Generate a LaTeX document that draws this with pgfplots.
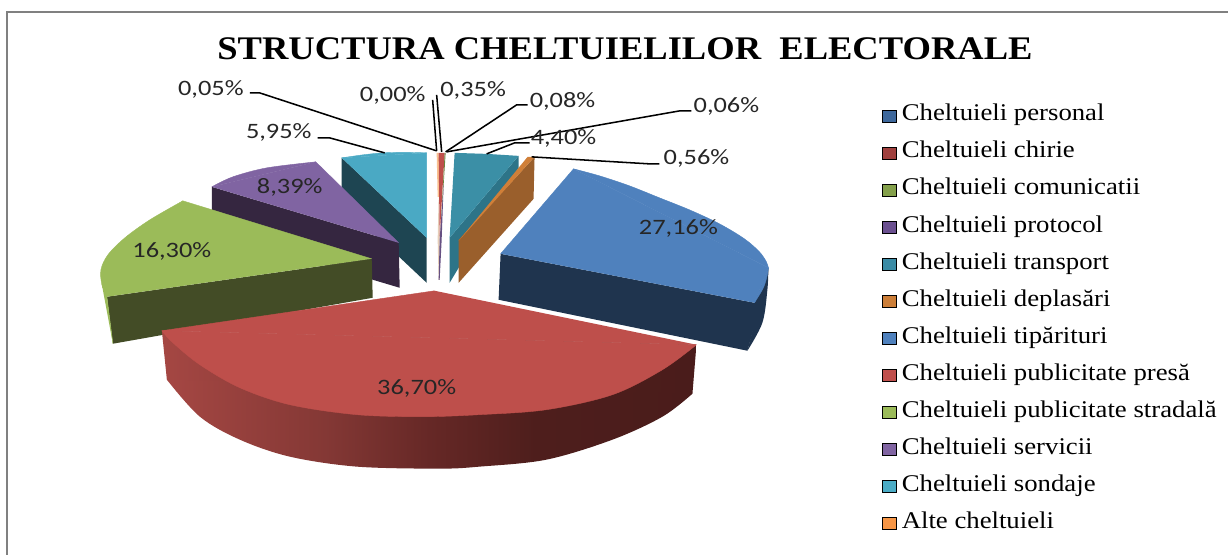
\documentclass[border=0pt]{standalone}
\usepackage{fontspec}
\usepackage{pgfplots}
\pgfplotsset{compat=1.18}
\setmainfont{Liberation Serif}
\newfontfamily\lab[FakeStretch=1.2]{Carlito}
\newfontfamily\leg[FakeStretch=1.115]{Liberation Serif}
\newfontfamily\ttl[FakeStretch=1.108]{Liberation Serif}
\definecolor{cBlue}{HTML}{4F81BD}\definecolor{cBlueD}{HTML}{1F344E}
\definecolor{cRed}{HTML}{BE4F4B}
\definecolor{cGreen}{HTML}{9BBB59}\definecolor{cGreenD}{HTML}{434C26}
\definecolor{cPur}{HTML}{8064A2}\definecolor{cPurD}{HTML}{352640}
\definecolor{cCy}{HTML}{4AA9C4}\definecolor{cCyD}{HTML}{1E4552}
\definecolor{cTr}{HTML}{3B8FA6}\definecolor{cTrD}{HTML}{2D7488}
\definecolor{cOr}{HTML}{D07F38}\definecolor{cOrD}{HTML}{9A5F2C}
\definecolor{cPeach}{HTML}{FAC090}
\definecolor{l1}{HTML}{3E689C}\definecolor{l2}{HTML}{A0403E}\definecolor{l3}{HTML}{84A04B}
\definecolor{l4}{HTML}{6B5090}\definecolor{l5}{HTML}{3A8BA5}\definecolor{l6}{HTML}{CC7E38}
\definecolor{l7}{HTML}{4F81BD}\definecolor{l8}{HTML}{C0504D}\definecolor{l9}{HTML}{9BBB59}
\definecolor{l10}{HTML}{8064A2}\definecolor{l11}{HTML}{4BACC6}\definecolor{l12}{HTML}{F79646}
\pgfdeclarehorizontalshading{redwall}{100bp}{rgb(0bp)=(0.647,0.278,0.263);rgb(25bp)=(0.647,0.278,0.263);rgb(40bp)=(0.518,0.22,0.208);rgb(50bp)=(0.4,0.157,0.149);rgb(60bp)=(0.306,0.118,0.11);rgb(75bp)=(0.29,0.11,0.106);rgb(100bp)=(0.29,0.11,0.106)}
\pgfplotsset{poly/.style={draw=none,no markers,line join=round,forget plot},
 face/.style={poly,fill=#1,draw=#1,line width=0.3pt},
 arc/.style={poly,smooth,tension=0.55},
 arcface/.style={face=#1,smooth,tension=0.55},
 lead/.style={black,line width=1.15pt,no markers,line join=round,forget plot}}
\begin{document}
\begin{tikzpicture}
\begin{axis}[scale only axis,width=921.75pt,height=416.25pt,
 xmin=0,xmax=1229,ymin=0,ymax=555,y dir=reverse,hide axis,clip=false,
 legend image code/.code={\fill[#1] (0pt,-4.6pt) rectangle (10pt,4.6pt);\path (14.25pt,0pt);},
 legend cell align=left,
 legend style={draw=none,fill=none,at={(axis cs:883,105)},anchor=north west,inner sep=0pt,outer sep=0pt,
   font=\leg\fontsize{18}{20}\selectfont,row sep=11.3pt,
   nodes={inner sep=0pt,outer sep=0pt,text height=12pt,text depth=4.5pt}}]
\path (axis cs:0,0) (axis cs:1229,555);
% frame
\addplot[color=black!50,line width=1.5pt,no markers,forget plot] coordinates {(7,555)(7,12)(1229,12)};
% sondaje
\addplot[poly,fill=cCyD] coordinates {(342,158)(427,238)(427,283)(342,203)};
\addplot[face=cCy] coordinates {(342,158)(427,153)(427,238)};
\addplot[arcface=cCy] coordinates {(342,158)(363,155)(383,153)(405,152.5)(427,153)};
% servicii
\addplot[poly,fill=cPurD] coordinates {(212,187)(399,243)(400,288)(212,232)};
\addplot[face=cPur] coordinates {(212,187)(316,162)(399,243)};
\addplot[arcface=cPur] coordinates {(212,187)(233,177)(267,168)(316,162)};
% publicitate stradala
\addplot[poly,fill=cGreenD] coordinates {(107,297)(372,259)(373,298)(113,344)};
\addplot[face=cGreen] coordinates {(372,259)(183,201)(102,285)(107,297)};
\addplot[arcface=cGreen] coordinates {(183,201)(150,220)(125,238)(108,255)(101,270)(102,285)(107,297)};
\addplot[face=cGreen] coordinates {(102,285)(107,297)(113,344)};
% presa
\addplot[poly,shading=redwall] coordinates {(162,331)(167,380)(240,430)(440,460)(613,430)(693,394)(697,345)};
\addplot[arc,shading=redwall] coordinates {(167,380)(200,417)(240,440)(290,457)(357,467)(440,469)(480,467)(547,460)(613,440)(663,417)(693,394)};
\addplot[face=cRed] coordinates {(435,291)(162,331)(697,345)};
\addplot[arcface=cRed] coordinates {(162,331)(173,343)(200,365)(240,388)(290,405)(357,415)(423,417)(480,415)(547,410)(613,395)(663,370)(697,345)};
% tiparituri
\addplot[poly,fill=cBlueD] coordinates {(501,254)(755,303)(769,268)(768,280)(748,351)(499,300)};
\addplot[arc,fill=cBlueD] coordinates {(769,268)(768,290)(763,323)(748,351)};
\addplot[face=cBlue] coordinates {(501,254)(574,169)(769,268)(755,303)};
\addplot[arcface=cBlue] coordinates {(574,169)(600,176)(630,186)(660,198)(690,210)(720,224)(745,239)(760,252)(767,262)(769,268)};
\addplot[arcface=cBlue] coordinates {(769,268)(768,275)(764,288)(755,303)};
% transport
\addplot[poly,fill=cTrD] coordinates {(519,156)(519,168)(450,283)(450,238)};
\addplot[poly,fill=cTr] coordinates {(455,153)(487,154)(519,156)(450,238)};
% deplasari
\addplot[poly,fill=cOrD] coordinates {(535,157)(534,199)(459,283)(459,240)};
\addplot[poly,fill=cOr] coordinates {(528,157)(535,157)(459,241)};
% thin slices
\addplot[poly,fill=cPeach!70!gray!60] coordinates {(439,196)(440,240)(440,280)(439,280)(438,240)};
\addplot[poly,fill=cPeach] coordinates {(437,153)(439,153)(440,197)(438,197)};
\addplot[poly,fill=cRed] coordinates {(439,153)(445,153)(440,238)};
\addplot[poly,fill=cGreen!70!black] coordinates {(445,153)(446,153)(441,232)};
\addplot[poly,fill=cPur!80!black] coordinates {(444,184)(442,240)(440,280)(439,280)(440,240)};
% leader lines
\addplot[lead] coordinates {(250,93)(260,93)(437,151)};
\addplot[lead] coordinates {(433,100)(437,151)};
\addplot[lead] coordinates {(437,95)(442,152)};
\addplot[lead] coordinates {(528,105)(517,105)(446,152)};
\addplot[lead] coordinates {(692,111)(680,111)(447,152)};
\addplot[lead] coordinates {(530,143)(515,143)(487,154)};
\addplot[lead] coordinates {(660,164)(650,164)(532,157)};
\addplot[lead] coordinates {(318,138)(330,138)(385,153)};
% labels
\def\L#1#2#3{\node[anchor=center,inner sep=0pt,yshift=-0.75pt,font=\lab\fontsize{16.5}{20}\selectfont,text=black!85] at (axis cs:#1,#2) {#3};}
\L{211}{88}{0,05\%}
\L{393}{94}{0,00\%}
\L{473.5}{89}{0,35\%}
\L{563}{100}{0,08\%}
\L{727}{105}{0,06\%}
\L{564}{138}{4,40\%}
\L{697}{158}{0,56\%}
\L{679}{228}{27,16\%}
\L{417}{388}{36,70\%}
\L{172}{251}{16,30\%}
\L{290}{187}{8,39\%}
\L{279}{132}{5,95\%}
\node[anchor=center,inner sep=0pt,font=\ttl\bfseries\fontsize{24.75}{30}\selectfont] at (axis cs:625.5,49) {STRUCTURA CHELTUIELILOR\ \ ELECTORALE};
% legend
\addlegendimage{fill=l1}\addlegendentry{Cheltuieli personal}
\addlegendimage{fill=l2}\addlegendentry{Cheltuieli chirie}
\addlegendimage{fill=l3}\addlegendentry{Cheltuieli comunicatii}
\addlegendimage{fill=l4}\addlegendentry{Cheltuieli protocol}
\addlegendimage{fill=l5}\addlegendentry{Cheltuieli transport}
\addlegendimage{fill=l6}\addlegendentry{Cheltuieli deplasări}
\addlegendimage{fill=l7}\addlegendentry{Cheltuieli tipărituri}
\addlegendimage{fill=l8}\addlegendentry{Cheltuieli publicitate presă}
\addlegendimage{fill=l9}\addlegendentry{Cheltuieli publicitate stradală}
\addlegendimage{fill=l10}\addlegendentry{Cheltuieli servicii}
\addlegendimage{fill=l11}\addlegendentry{Cheltuieli sondaje}
\addlegendimage{fill=l12}\addlegendentry{Alte cheltuieli}
\end{axis}
\end{tikzpicture}
\end{document}
